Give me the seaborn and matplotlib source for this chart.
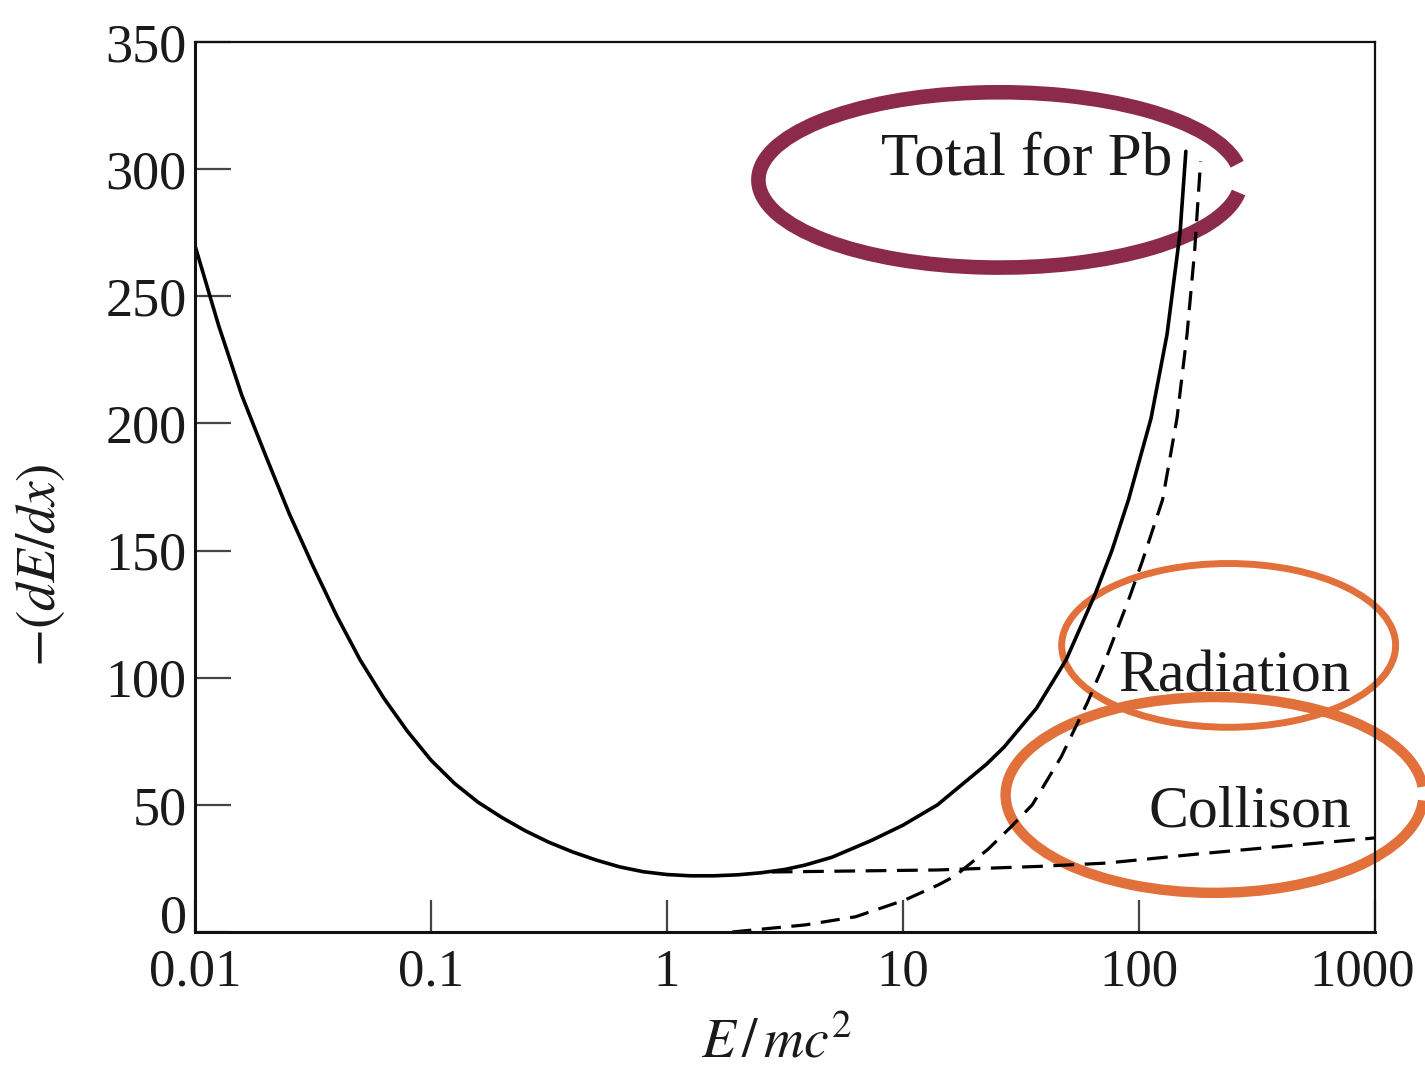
import matplotlib
matplotlib.use("Agg")
import matplotlib.pyplot as plt
from matplotlib.patches import Arc
from matplotlib.ticker import FixedLocator, FixedFormatter, NullLocator
from matplotlib.transforms import ScaledTranslation
import seaborn as sns
import pandas as pd

# ---- data ----
total_E = [0.01, 0.0126, 0.0158, 0.02, 0.0251, 0.0316, 0.0398, 0.0501, 0.0631,
           0.0794, 0.1, 0.126, 0.158, 0.2, 0.251, 0.316, 0.398, 0.501, 0.631,
           0.794, 1.0, 1.26, 1.58, 2.0, 2.51, 3.16, 3.84, 5.0, 7.35, 10, 14.0,
           22.6, 26.8, 36.8, 49.1, 65.3, 76.8, 90.3, 112.5, 131.5, 149.3, 158]
total_y = [270, 238.5, 211, 187, 164.5, 144, 124.5, 107, 92,
           79, 67.6, 58.4, 51.1, 45.0, 39.8, 35.3, 31.5, 28.3, 25.6,
           23.7, 22.6, 22.1, 22.1, 22.5, 23.3, 24.6, 26.3, 29.4, 36, 42, 50,
           66, 72.7, 88, 107, 133, 150, 170, 202, 235, 275, 307]

collision_E = [2.78, 14.1, 37.7, 72.6, 193, 1000]
collision_y = [23.6, 24.4, 25.8, 27.1, 31, 37]

radiation_E = [1.89, 3.86, 6.3, 10.2, 14.1, 16.6, 22.9, 28.8, 35.3, 46.9, 60.3,
               70.8, 91.5, 103.5, 125.9, 144.9, 159.8, 172.2, 182.4]
radiation_y = [0, 2.8, 6, 12.6, 18.5, 22, 32.5, 41.5, 50, 69, 90,
               105, 132, 146, 170, 202, 235, 268, 303]

x_ticks = [0.01, 0.1, 1, 10, 100, 1000]
x_tick_labels = ["0.01", "0.1", "1", "10", "100", "1000"]
y_ticks = [0, 50, 100, 150, 200, 250, 300, 350]
y_tick_labels = ["0", "50", "100", "150", "200", "250", "300", "350"]

label_total = "Total for Pb"
label_radiation = "Radiation"
label_collision = "Collison"

# ---- style ----
sns.set_theme(style="white")
plt.rcParams["font.family"] = ["Liberation Serif", "DejaVu Serif"]
plt.rcParams["mathtext.fontset"] = "stix"

fig = plt.figure(figsize=(14.25, 10.73), dpi=100)
ax = fig.add_axes([0.1368, 0.1314, 0.8281, 0.8295])
ax.set_xscale("log")

df_total = pd.DataFrame({"E": total_E, "y": total_y})
df_coll = pd.DataFrame({"E": collision_E, "y": collision_y})
df_rad = pd.DataFrame({"E": radiation_E, "y": radiation_y})

sns.lineplot(data=df_total, x="E", y="y", ax=ax, color="black", lw=2.6,
             estimator=None, sort=False)
sns.lineplot(data=df_coll, x="E", y="y", ax=ax, color="black", lw=2.3,
             estimator=None, sort=False, linestyle=(0, (6.5, 3.3)))
sns.lineplot(data=df_rad, x="E", y="y", ax=ax, color="black", lw=2.3,
             estimator=None, sort=False, linestyle=(0, (6.0, 3.3)))

ax.set_xlim(0.01, 1000)
ax.set_ylim(0, 350)

ax.xaxis.set_major_locator(FixedLocator(x_ticks))
ax.xaxis.set_major_formatter(FixedFormatter(x_tick_labels))
ax.xaxis.set_minor_locator(NullLocator())
ax.yaxis.set_major_locator(FixedLocator(y_ticks))
ax.yaxis.set_major_formatter(FixedFormatter(y_tick_labels))

ax.tick_params(axis="y", direction="in", length=26, width=1.6, color="#444444",
               labelsize=39, pad=6, labelcolor="#1a1a1a", left=True)
ax.tick_params(axis="x", direction="in", length=23, width=1.6, color="#444444",
               labelsize=38, pad=12, labelcolor="#1a1a1a", bottom=True)

for side, lw in [("left", 2.2), ("bottom", 2.2), ("top", 1.6), ("right", 1.6)]:
    ax.spines[side].set_visible(True)
    ax.spines[side].set_color("#111111")
    ax.spines[side].set_linewidth(lw)

ax.set_xlabel(r"$E\,/\,mc^2$", fontsize=40, color="#1a1a1a")
ax.set_ylabel(r"$-(dE/dx)$", fontsize=40, color="#1a1a1a")
ax.xaxis.set_label_coords(0.493, -0.096)
ax.yaxis.set_label_coords(-0.108, 0.412)

# ---- annotations ----
ax.text(0.7045, 0.851, label_total, transform=ax.transAxes, fontsize=44,
        ha="center", va="baseline", color="#1a1a1a")
ax.text(0.881, 0.270, label_radiation, transform=ax.transAxes, fontsize=43,
        ha="center", va="baseline", color="#1a1a1a")
ax.text(0.894, 0.118, label_collision, transform=ax.transAxes, fontsize=43,
        ha="center", va="baseline", color="#1a1a1a")

ax.add_patch(Arc((0.682, 0.845), 0.409, 0.197, theta1=5, theta2=356,
                 transform=ax.transAxes, color="#8B2A4A", lw=10.5, clip_on=False))
ax.add_patch(Arc((0.876, 0.322), 0.283, 0.184, theta1=0, theta2=360,
                 transform=ax.transAxes, color="#E2703A", lw=5, clip_on=False))
ax.add_patch(Arc((0.864, 0.154), 0.354, 0.220, theta1=3, theta2=358,
                 transform=ax.transAxes, color="#E2703A", lw=7.5, clip_on=False))

fig.canvas.draw()
ylabels = ax.get_yticklabels()
ylabels[0].set_verticalalignment("baseline")
last_x = ax.get_xticklabels()[-1]
last_x.set_transform(last_x.get_transform()
                     + ScaledTranslation(-9 / 72, 0, fig.dpi_scale_trans))

fig.savefig("out.png", dpi=100, facecolor="white")
